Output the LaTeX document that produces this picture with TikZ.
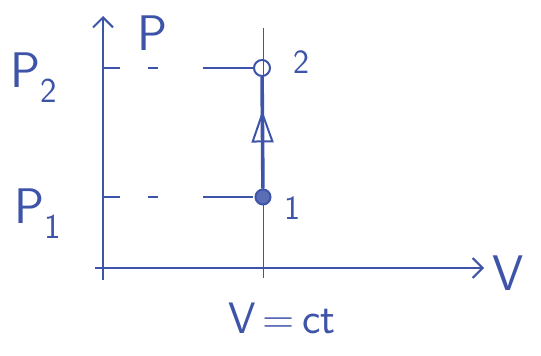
\documentclass[tikz,border=0pt]{standalone}
\usepackage{fontspec}
\usetikzlibrary{arrows.meta,positioning,decorations.markings}
\definecolor{penblue}{RGB}{62,84,168}

\begin{document}
\begin{tikzpicture}[x=1pt,y=-1pt,
    axis/.style={penblue, line width=2.8pt, -{Straight Barb[length=10pt,width=20pt,line width=2pt]}},
    guide/.style={penblue, line width=1pt},
    dashline/.style={penblue, line width=1.3pt, dash pattern=on 17pt off 28pt on 10pt off 45pt on 50pt off 20pt},
    state/.style={circle, draw=penblue, line width=2pt, minimum size=15pt, inner sep=0pt},
    process/.style={penblue, line width=3.6pt, postaction={decorate},
        decoration={markings, mark=at position 0.7 with {\arrow[line width=2pt]{Triangle[open,length=32pt,width=22pt]}}}},
    lbl/.style={text=penblue, font=\sffamily\fontsize{50}{54}\selectfont, inner sep=0pt},
    num/.style={text=penblue, font=\sffamily\fontsize{34}{36}\selectfont, inner sep=0pt}
]
\useasboundingbox (0,0) rectangle (541,356);

% Axes
\coordinate (ybot) at (103,280);
\coordinate (ytop) at (103,16);
\coordinate (xleft) at (95,268);
\coordinate (xright) at (484,268);
\draw[axis] (ybot) -- (ytop);
\draw[axis] (xleft) -- (xright);
\node[lbl] (Vlab) at (508,273) {V};
\node[lbl] (Plab) at (152,33) {P};

% Isochore guide
\coordinate (vtop) at (263,28);
\coordinate (vbot) at (263,278);
\draw[guide] (vtop) -- (vbot);
\node[lbl, font=\sffamily\fontsize{44}{48}\selectfont] (Vct) at (282,318) {V\,=\,ct};

% States
\node[state, minimum size=16pt] (p2) at (262,68) {};
\node[state, fill=penblue!85] (p1) at (263,197) {};
\node[num] (n2) at (301,62) {2};
\node[num] (n1) at (292,208) {1};

% Pressure levels
\draw[dashline] (ytop |- p2) -- (p2);
\draw[dashline] (ytop |- p1) -- (p1);
\node[lbl] (P2lab) at (34,78) {P\textsubscript{2}};
\node[lbl] (P1lab) at (38,214) {P\textsubscript{1}};

% Process 1 -> 2
\draw[process] (p1) -- (p2);

\end{tikzpicture}
\end{document}
